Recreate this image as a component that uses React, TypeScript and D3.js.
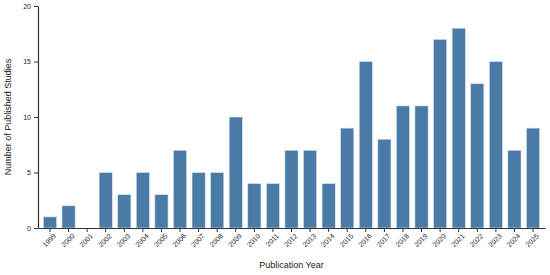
import React, { useEffect, useRef } from "react";
import * as d3 from "d3";

const years = ["1999","2000","2001","2002","2003","2004","2005","2006","2007","2008","2009","2010","2011","2012","2013","2014","2015","2016","2017","2018","2019","2020","2021","2022","2023","2024","2025"];
const counts = [1,2,0,5,3,5,3,7,5,5,10,4,4,7,7,4,9,15,8,11,11,17,18,13,15,7,9];
const yTicks = [0,5,10,15,20];

export default function App() {
  const ref = useRef<SVGSVGElement>(null);
  useEffect(() => {
    const svg = d3.select(ref.current);
    svg.selectAll("*").remove();
    const left = 38, right = 545, top = 6, bottom = 228;
    const x = d3.scaleBand<string>().domain(years).range([left, right]).paddingInner(0.29).paddingOuter(0.29);
    const y = d3.scaleLinear().domain([0, 20]).range([bottom, top]);
    const font = "Liberation Sans, Arial, sans-serif";

    svg.append("g").selectAll("rect").data(years).join("rect")
      .attr("x", d => x(d)!)
      .attr("width", x.bandwidth())
      .attr("y", (d, i) => y(counts[i]))
      .attr("height", (d, i) => bottom - y(counts[i]))
      .attr("fill", "#4a7aa6")
      .attr("stroke", "#dbe6f0")
      .attr("stroke-width", 0.6);

    const xa = svg.append("g").attr("transform", `translate(0,${bottom})`)
      .call(d3.axisBottom(x).tickSize(4).tickSizeOuter(0));
    xa.select(".domain").attr("stroke", "#333").attr("stroke-width", 1.2);
    xa.selectAll(".tick line").attr("stroke", "#333");
    xa.selectAll("text")
      .attr("font-family", font).attr("font-size", 7).attr("fill", "#222")
      .attr("text-anchor", "end")
      .attr("dx", "-0.2em").attr("dy", "0.5em")
      .attr("transform", "rotate(-45)");

    const ya = svg.append("g").attr("transform", `translate(${left},0)`)
      .call(d3.axisLeft(y).tickValues(yTicks).tickSize(4).tickSizeOuter(0));
    ya.select(".domain").attr("stroke", "#333").attr("stroke-width", 1.2);
    ya.selectAll(".tick line").attr("stroke", "#333");
    ya.selectAll("text").attr("font-family", font).attr("font-size", 7).attr("fill", "#222");

    svg.append("text").attr("x", (left + right) / 2).attr("y", 268)
      .attr("text-anchor", "middle").attr("font-family", font).attr("font-size", 9).attr("fill", "#222")
      .text("Publication Year");
    svg.append("text").attr("transform", `translate(11,${(top + bottom) / 2}) rotate(-90)`)
      .attr("text-anchor", "middle").attr("font-family", font).attr("font-size", 9).attr("fill", "#222")
      .text("Number of Published Studies");
  }, []);
  return (
    <svg ref={ref} width={550} height={275} style={{ position: "absolute", left: 0, top: 0, background: "#fff" }} />
  );
}
